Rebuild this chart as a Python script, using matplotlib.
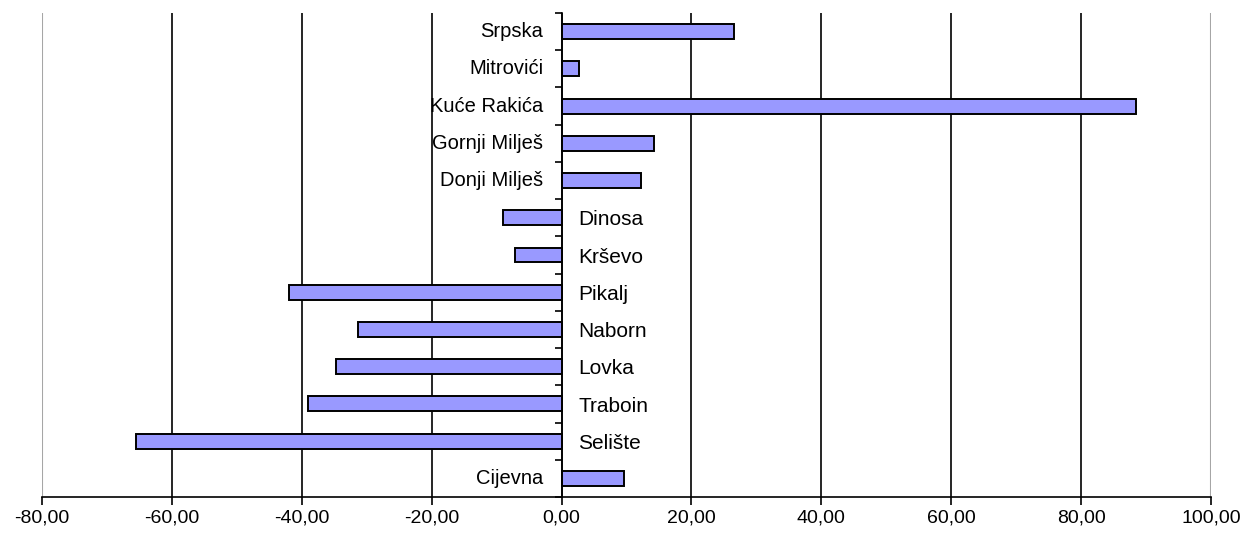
import matplotlib
matplotlib.use("Agg")
import matplotlib.pyplot as plt
from matplotlib.ticker import FixedLocator, FuncFormatter
import numpy as np

categories = ["Srpska", "Mitrovići", "Kuće Rakića", "Gornji Milješ", "Donji Milješ",
              "Dinosa", "Krševo", "Pikalj", "Naborn", "Lovka", "Traboin", "Selište", "Cijevna"]
values = [26.5, 2.7, 88.5, 14.2, 12.3, -9.0, -7.1, -41.9, -31.3, -34.7, -39.0, -65.5, 9.6]
x_ticks = [-80, -60, -40, -20, 0, 20, 40, 60, 80, 100]

plt.rcParams['font.family'] = ['Liberation Sans', 'DejaVu Sans']

fig = plt.figure(figsize=(12.5, 5.35), dpi=100)
ax = fig.add_axes([42/1250, 1-497/535, (1211-42)/1250, (497-13)/535])

y = np.arange(len(categories))
ax.barh(y, values, height=0.4, color="#9999FF", edgecolor="black", linewidth=1.4, zorder=3)

ax.set_xlim(x_ticks[0], x_ticks[-1])
ax.set_ylim(len(categories)-0.5, -0.5)

# grid lines
for xv in x_ticks[1:-1]:
    ax.axvline(xv, color="black", linewidth=1.2, zorder=1)
ax.axvline(x_ticks[0], color="#a6a6a6", linewidth=1.5, zorder=1)
ax.axvline(x_ticks[-1], color="#a6a6a6", linewidth=1.5, zorder=1)

for s in ["top", "right"]:
    ax.spines[s].set_visible(False)
ax.spines["left"].set_position(("data", 0))
ax.spines["left"].set_color("black")
ax.spines["left"].set_linewidth(1.2)
ax.spines["left"].set_zorder(4)
ax.spines["bottom"].set_linewidth(1.2)

ax.xaxis.set_major_locator(FixedLocator(x_ticks))
ax.xaxis.set_major_formatter(FuncFormatter(lambda v, p: f"{v:.2f}".replace(".", ",")))
ax.tick_params(axis="x", direction="out", length=6, width=1.2, labelsize=14, pad=3)

ax.yaxis.set_major_locator(FixedLocator(np.arange(-0.5, len(categories), 1.0)))
ax.tick_params(axis="y", direction="out", length=5, width=1.2, labelleft=False)

for yi, (cat, v) in enumerate(zip(categories, values)):
    if v >= 0:
        ax.annotate(cat, (0, yi), xytext=(-13, 0), textcoords="offset points",
                    ha="right", va="center", fontsize=14.5, zorder=5)
    else:
        ax.annotate(cat, (0, yi), xytext=(12, -1.5), textcoords="offset points",
                    ha="left", va="center", fontsize=15, zorder=5)

fig.savefig("out.png", dpi=100)
